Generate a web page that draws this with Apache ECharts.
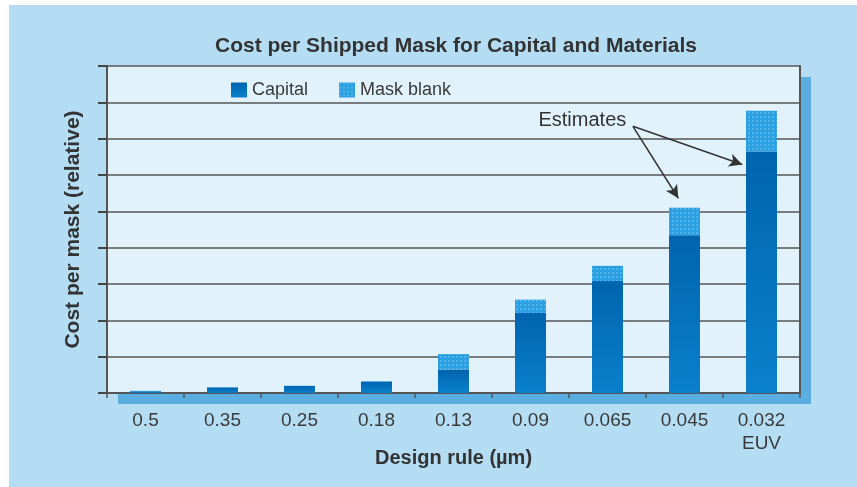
<!DOCTYPE html>
<html>
<head>
<meta charset="utf-8">
<script src="https://cdn.jsdelivr.net/npm/echarts@6/dist/echarts.min.js"></script>
<style>
html, body { margin: 0; padding: 0; background: #fff; }
#bg { position: absolute; left: 9px; top: 5px; right: 0; bottom: 0; background: #b4dcf3; }
#chart { position: absolute; left: 0; top: 0; width: 857px; height: 487px; }
</style>
</head>
<body>
<div id="bg"></div>
<div id="chart"></div>
<script>
// 设计规则（横轴类目）
var categories = ['0.5', '0.35', '0.25', '0.18', '0.13', '0.09', '0.065', '0.045', '0.032\nEUV'];
// 资本成本 / 掩模坯料成本（相对值）
var capital = [0.05, 0.15, 0.19, 0.31, 0.65, 2.2, 3.08, 4.34, 6.65];
var maskBlank = [0.01, 0.01, 0.01, 0.02, 0.42, 0.37, 0.42, 0.76, 1.12];
// "Estimates" 箭头（隐藏数值轴上的坐标：[类目位置, 值]）
var arrowStart = [6.33, 7.34];
var arrowEnds = [[6.92, 5.36], [7.75, 6.29]];
var labelAt = [6.25, 7.5];

var font = 'Liberation Sans';
var textColor = '#3a3a3a';
var lineColor = '#555';

var chart = echarts.init(document.getElementById('chart'));

var option = {
    backgroundColor: 'transparent',
    title: {
        text: 'Cost per Shipped Mask for Capital and Materials',
        left: 451,
        top: 31,
        textAlign: 'center',
        textStyle: {
            fontFamily: font,
            fontSize: 21,
            fontWeight: 'bold',
            color: '#333'
        }
    },
    legend: {
        data: ['Capital', 'Mask blank'],
        icon: 'rect',
        left: 226,
        top: 76,
        itemWidth: 16,
        itemHeight: 15,
        itemGap: 31,
        textStyle: { fontFamily: font, fontSize: 18, color: textColor }
    },
    grid: {
        left: 107,
        right: 57,
        top: 66,
        bottom: 94,
        show: true,
        backgroundColor: '#e2f2fb',
        borderWidth: 0,
        shadowColor: '#5aaee2',
        shadowBlur: 0,
        shadowOffsetX: 11,
        shadowOffsetY: 11
    },
    xAxis: [{
        type: 'category',
        data: categories,
        axisLine: { show: true, lineStyle: { color: lineColor, width: 2 } },
        axisTick: { show: true, length: 5, lineStyle: { color: lineColor, width: 1.5 } },
        axisLabel: {
            margin: 16,
            fontFamily: font,
            fontSize: 19,
            lineHeight: 23,
            color: textColor
        },
        name: 'Design rule (µm)',
        nameLocation: 'middle',
        nameGap: 55,
        nameMoveOverlap: false,
        nameTextStyle: { fontFamily: font, fontSize: 20, fontWeight: 'bold', color: '#333' }
    }, {
        // 隐藏数值轴，仅用于标注定位
        type: 'value',
        min: -0.5,
        max: 8.5,
        show: false
    }],
    yAxis: [{
        type: 'value',
        min: 0,
        max: 9,
        interval: 1,
        axisLabel: { show: false },
        axisLine: { show: true, onZero: false, lineStyle: { color: lineColor, width: 2 } },
        axisTick: { show: true, length: 9, lineStyle: { color: '#444', width: 2 } },
        splitLine: { show: true, lineStyle: { color: lineColor, width: 1.5 } },
        name: 'Cost per mask (relative)',
        nameLocation: 'middle',
        nameGap: 23,
        nameMoveOverlap: false,
        nameTextStyle: { fontFamily: font, fontSize: 21, fontWeight: 'bold', color: '#333' }
    }, {
        // 右边框
        type: 'value',
        position: 'right',
        min: 0,
        max: 9,
        interval: 1,
        axisLabel: { show: false },
        axisTick: { show: false },
        splitLine: { show: false },
        axisLine: { show: true, onZero: false, lineStyle: { color: lineColor, width: 2 } }
    }],
    series: [{
        name: 'Capital',
        type: 'bar',
        stack: 'cost',
        barWidth: 31,
        itemStyle: {
            color: new echarts.graphic.LinearGradient(0, 0, 0, 1, [
                { offset: 0, color: '#0064ae' },
                { offset: 1, color: '#0b80cc' }
            ])
        },
        data: capital
    }, {
        name: 'Mask blank',
        type: 'bar',
        stack: 'cost',
        barWidth: 31,
        itemStyle: {
            color: '#2a9fe2',
            decal: {
                symbol: 'rect',
                symbolSize: 0.6,
                color: 'rgba(255,255,255,0.6)',
                dashArrayX: [2, 2],
                dashArrayY: [2, 2]
            }
        },
        data: maskBlank
    }, {
        name: 'annot',
        type: 'scatter',
        xAxisIndex: 1,
        silent: true,
        data: [],
        markLine: {
            silent: true,
            symbol: ['none', 'arrow'],
            symbolSize: [10, 13],
            label: { show: false },
            lineStyle: { color: '#333', width: 1.5, type: 'solid' },
            data: arrowEnds.map(function (e) {
                return [{ coord: arrowStart }, { coord: e }];
            })
        },
        markPoint: {
            silent: true,
            symbol: 'rect',
            symbolSize: 1,
            itemStyle: { color: 'transparent' },
            label: {
                show: true,
                position: 'left',
                distance: 0,
                formatter: 'Estimates',
                fontFamily: font,
                fontSize: 20,
                color: '#333'
            },
            data: [{ coord: labelAt }]
        }
    }]
};
chart.setOption(option);
</script>
</body>
</html>
